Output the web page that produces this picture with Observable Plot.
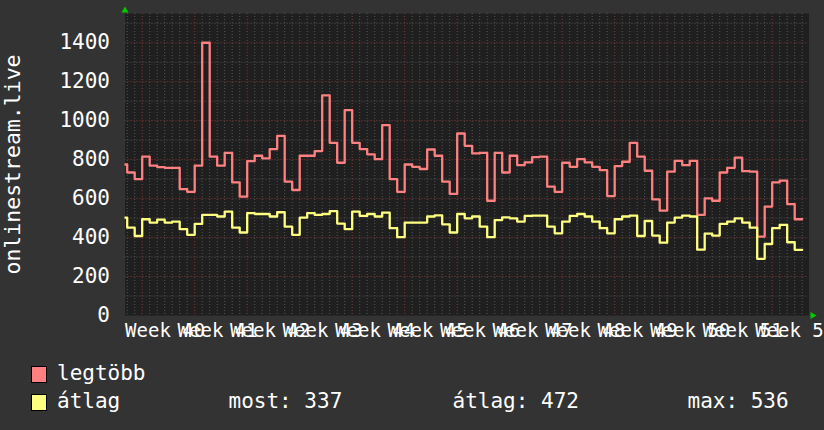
<!DOCTYPE html>
<html>
<head>
<meta charset="utf-8">
<script src="https://cdn.jsdelivr.net/npm/d3@7"></script>
<script src="https://cdn.jsdelivr.net/npm/@observablehq/plot@0.6"></script>
<style>
  html, body { margin: 0; padding: 0; background: #333333; }
  #wrap { position: relative; width: 824px; height: 430px; overflow: hidden; background: #333333;
          font-family: "DejaVu Sans Mono", monospace; color: #ffffff; }
  #chart svg { display: block; }
  .lg { position: absolute; font-size: 21px; line-height: 21px; white-space: pre; color: #ffffff; }
  .sw { position: absolute; width: 14px; height: 15px; border: 1px solid #000000; }
</style>
</head>
<body>
<div id="wrap">
  <div id="chart"></div>
  <div id="legend"></div>
</div>
<script>
// ---- data (daily values; first day index is -3 relative to the Monday of Week 40) ----
const firstDay = -3;
const legtobb = [
  775, 734, 700, 815, 769, 762, 758, 758, 649, 635,
  769, 1400, 815, 769, 835, 683, 610, 792, 820, 806,
  854, 922, 687, 644, 820, 820, 844, 1130, 886, 784,
  1054, 886, 854, 827, 803, 977, 700, 635, 775, 763,
  752, 852, 820, 687, 624, 934, 871, 832, 835, 589,
  835, 734, 820, 772, 786, 813, 815, 661, 635, 784,
  763, 803, 786, 763, 746, 613, 767, 789, 886, 815,
  743, 596, 538, 738, 794, 772, 794, 516, 601, 589,
  734, 758, 810, 741, 738, 405, 559, 683, 692, 572,
  494
];
const atlag = [
  502, 451, 408, 494, 477, 492, 477, 482, 443, 414,
  470, 516, 516, 508, 533, 451, 426, 525, 521, 521,
  508, 530, 456, 414, 502, 525, 516, 521, 536, 472,
  443, 533, 511, 521, 508, 528, 448, 402, 477, 477,
  477, 508, 514, 468, 426, 521, 499, 508, 456, 402,
  490, 504, 499, 482, 511, 513, 513, 456, 422, 482,
  511, 521, 508, 482, 448, 422, 494, 508, 513, 408,
  485, 410, 374, 477, 502, 513, 508, 338, 420, 410,
  470, 482, 499, 477, 451, 291, 367, 448, 465, 376,
  337
];
const weekLabels = ["Week 40","Week 41","Week 42","Week 43","Week 44","Week 45","Week 46",
                    "Week 47","Week 48","Week 49","Week 50","Week 51","Week 52"];
const yTickLabels = [0, 200, 400, 600, 800, 1000, 1200, 1400];
const yMinor = [0, 100, 200, 300, 400, 500, 600, 700, 800, 900, 1000, 1100, 1200, 1300, 1400, 1500];
const yAxisTitle = "onlinestream.live";
const seriesNames = ["legtöbb", "átlag"];
const seriesColors = ["#ff8080", "#ffff80"];
const stats = ["most: 337", "átlag: 472", "max: 536"];

// ---- build tables ----
function stepTable(vals) {
  const t = vals.map((v, i) => ({day: firstDay + i, v}));
  t.push({day: firstDay + vals.length, v: vals[vals.length - 1]});
  return t;
}
const redT = stepTable(legtobb);
const yelT = stepTable(atlag);

const xDomain = [-2.293, 88.907];
const yDomain = [0, 1550];
const dayLines = d3.range(Math.ceil(xDomain[0]), Math.floor(xDomain[1]) + 1);
const weekLines = weekLabels.map((_, i) => i * 7);
const dayMinor = dayLines.filter(d => !weekLines.includes(d));
const yMajor = yTickLabels;
const yMinorOnly = yMinor.filter(v => !yMajor.includes(v));

const font = "DejaVu Sans Mono";

const chart = Plot.plot({
  width: 824,
  height: 345,
  marginLeft: 124.5,
  marginRight: 15.5,
  marginTop: 13,
  marginBottom: 30,
  style: {background: "transparent", color: "#ffffff", fontFamily: font, overflow: "hidden"},
  x: {domain: xDomain, axis: null},
  y: {domain: yDomain, axis: null},
  marks: [
    Plot.frame({fill: "#1f1f1f", stroke: null}),
    Plot.ruleX(dayMinor, {stroke: "#555555", strokeWidth: 1, strokeDasharray: "1,2"}),
    Plot.ruleY(yMinorOnly, {stroke: "#555555", strokeWidth: 1, strokeDasharray: "1,2"}),
    Plot.ruleX(weekLines, {stroke: "#853a3a", strokeWidth: 1, strokeDasharray: "1,2"}),
    Plot.ruleY(yMajor.filter(v => v > 0), {stroke: "#853a3a", strokeWidth: 1, strokeDasharray: "1,2"}),
    Plot.line(redT, {x: "day", y: "v", curve: "step-after", stroke: seriesColors[0], strokeWidth: 2.3, clip: true}),
    Plot.line(yelT, {x: "day", y: "v", curve: "step-after", stroke: seriesColors[1], strokeWidth: 2.3, clip: true}),
    // y tick labels
    Plot.text(yTickLabels, {x: () => xDomain[0], y: d => d, text: d => String(d), textAnchor: "end",
      dx: -15, fontSize: 21, fill: "#ffffff", fontFamily: font}),
    // x labels (overlapping, as in the original)
    Plot.text(weekLabels, {x: (d, i) => weekLines[i], y: () => yDomain[0], text: d => d, textAnchor: "start",
      dx: -17.1, dy: 15, fontSize: 19, fill: "#ffffff", fontFamily: font}),
    // y axis title
    Plot.text([yAxisTitle], {frameAnchor: "left", text: d => d, rotate: -90, textAnchor: "middle",
      dx: -112, fontSize: 21.5, fill: "#ffffff", fontFamily: font}),
    // green axis arrows
    Plot.dot([0], {x: () => xDomain[0], y: () => yDomain[1], symbol: "triangle", r: 2.6, fill: "#00cc00",
      stroke: null, dy: -3}),
    Plot.dot([0], {x: () => xDomain[1], y: () => yDomain[0], symbol: "triangle", r: 2.6, fill: "#00cc00",
      stroke: null, rotate: 90, dx: 3.5})
  ]
});
document.getElementById("chart").appendChild(chart);

// ---- legend ----
const lg = document.getElementById("legend");
const rows = [{top: 363.2, swTop: 365.5}, {top: 391.2, swTop: 393.5}];
seriesNames.forEach((name, i) => {
  const sw = document.createElement("div");
  sw.className = "sw";
  sw.style.left = "31px";
  sw.style.top = rows[i].swTop + "px";
  sw.style.background = seriesColors[i];
  lg.appendChild(sw);
  const t = document.createElement("div");
  t.className = "lg";
  t.style.left = "57px";
  t.style.top = rows[i].top + "px";
  t.textContent = name;
  lg.appendChild(t);
});
const statX = [228.5, 452.5, 687.5];
stats.forEach((s, i) => {
  const t = document.createElement("div");
  t.className = "lg";
  t.style.left = statX[i] + "px";
  t.style.top = rows[1].top + "px";
  t.textContent = s;
  lg.appendChild(t);
});
</script>
</body>
</html>
